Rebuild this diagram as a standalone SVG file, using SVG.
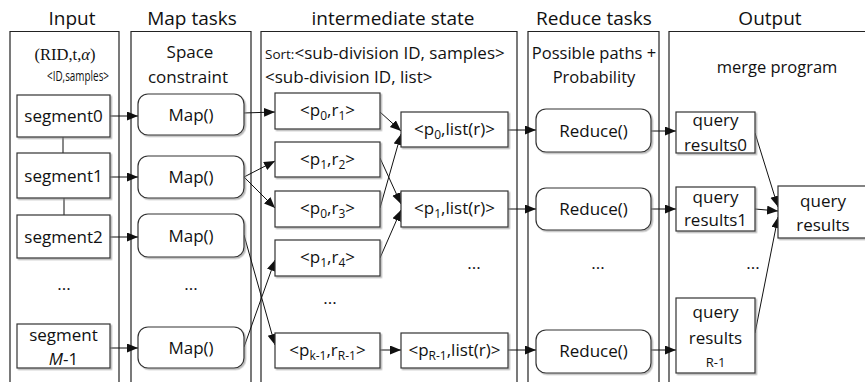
<svg xmlns="http://www.w3.org/2000/svg" width="865" height="382" viewBox="0 0 865 382">
<style>
text{font-family:"Open Sans","Liberation Sans",sans-serif;fill:#111;}
.title{font-size:19px;text-anchor:middle;}
.t{font-size:17px;text-anchor:middle;}
.h{font-size:16.5px;text-anchor:middle;}
.sub{font-size:12px;}
.col{fill:none;stroke:#222;stroke-width:1.2;}
.box{fill:#fff;stroke:#333;stroke-width:1.2;filter:url(#sh);}
.con{fill:none;stroke:#111;stroke-width:1;}
.arr{marker-end:url(#ah);}
</style>
<defs>
<filter id="sh" x="-10%" y="-10%" width="130%" height="130%"><feDropShadow dx="1.5" dy="1.5" stdDeviation="0.7" flood-color="#888" flood-opacity="0.6"/></filter>
<marker id="ah" markerUnits="userSpaceOnUse" markerWidth="12" markerHeight="10" refX="11" refY="4.5" orient="auto"><path d="M0,0 L11,4.5 L0,9 Z" fill="#111"/></marker>
</defs>

<g id="columns">
<path class="col" d="M10,392 V31.5 H119 V392"/>
<path class="col" d="M131,392 V31.5 H251 V392"/>
<path class="col" d="M261,392 V31.5 H517 V392"/>
<path class="col" d="M528,392 V31.5 H659 V392"/>
<path class="col" d="M669,392 V31.5 H870"/>
<text class="title" x="72" y="25">Input</text>
<text class="title" x="192" y="25">Map tasks</text>
<text class="title" x="393" y="25">intermediate state</text>
<text class="title" x="594" y="25">Reduce tasks</text>
<text class="title" x="770" y="25">Output</text>
<text x="65" y="60" style="font-family:'Liberation Serif',serif;font-size:16.5px;text-anchor:middle">(RID,t,<tspan font-style="italic">α</tspan>)</text>
<text x="47" y="81" style="font-size:14px" textLength="62" lengthAdjust="spacingAndGlyphs">&lt;ID,samples&gt;</text>
<text class="t" x="190" y="58">Space</text>
<text class="t" x="188" y="83">constraint</text>
<text x="265" y="59" style="font-size:17px"><tspan style="font-size:13.5px">Sort:</tspan>&lt;sub-division ID, samples&gt;</text>
<text x="265" y="83" style="font-size:17px">&lt;sub-division ID, list&gt;</text>
<text class="h" x="594" y="59">Possible paths +</text>
<text class="h" x="594" y="83">Probability</text>
<text class="h" x="777" y="73">merge program</text>
</g>

<g id="connectors">
<line class="con" x1="63" y1="137" x2="63" y2="153"/>
<line class="con" x1="64" y1="198" x2="64" y2="215"/>
<line class="con arr" x1="110" y1="116" x2="138" y2="116"/>
<line class="con arr" x1="110" y1="177" x2="138" y2="177"/>
<line class="con arr" x1="110" y1="237" x2="138" y2="237"/>
<line class="con arr" x1="110" y1="348" x2="138" y2="348"/>
<line class="con arr" x1="243" y1="113" x2="275" y2="112"/>
<line class="con arr" x1="244" y1="177" x2="275" y2="161"/>
<line class="con arr" x1="244" y1="177" x2="275" y2="208"/>
<line class="con arr" x1="244" y1="235" x2="275" y2="345"/>
<line class="con arr" x1="244" y1="347" x2="275" y2="260"/>
<line class="con arr" x1="380" y1="112" x2="401" y2="131"/>
<line class="con arr" x1="380" y1="158" x2="401" y2="204"/>
<line class="con arr" x1="380" y1="208" x2="401" y2="134"/>
<line class="con arr" x1="380" y1="258" x2="401" y2="210"/>
<line class="con arr" x1="380" y1="350" x2="401" y2="350"/>
<line class="con arr" x1="508" y1="130" x2="536" y2="130"/>
<line class="con arr" x1="508" y1="209" x2="536" y2="209"/>
<line class="con arr" x1="508" y1="350" x2="536" y2="350"/>
<line class="con arr" x1="651" y1="131" x2="676" y2="131"/>
<line class="con arr" x1="651" y1="209" x2="676" y2="209"/>
<line class="con arr" x1="651" y1="350" x2="676" y2="350"/>
<line class="con arr" x1="755" y1="133" x2="778" y2="207"/>
<line class="con arr" x1="755" y1="209" x2="778" y2="211"/>
<line class="con arr" x1="755" y1="333" x2="778" y2="217"/>
</g>

<g id="segment0"><rect class="box" x="17" y="95" width="93" height="42"/><text class="t" x="63.5" y="122">segment0</text></g>
<g id="segment1"><rect class="box" x="17" y="153" width="93" height="45"/><text class="t" x="63.5" y="182">segment1</text></g>
<g id="segment2"><rect class="box" x="17" y="215" width="93" height="43"/><text class="t" x="63.5" y="243">segment2</text></g>
<g id="input-dots"><text class="t" x="64" y="290">...</text></g>
<g id="segmentM-1"><rect class="box" x="17" y="324" width="93" height="44"/><text class="t" x="63.5" y="341">segment</text><text class="t" x="63.5" y="365"><tspan font-style="italic">M</tspan>-1</text></g>

<g id="map0"><rect class="box" x="138" y="94" width="106" height="41" rx="10"/><text class="t" x="191" y="121">Map()</text></g>
<g id="map1"><rect class="box" x="138" y="156" width="106" height="42" rx="10"/><text class="t" x="191" y="183">Map()</text></g>
<g id="map2"><rect class="box" x="138" y="214" width="106" height="43" rx="10"/><text class="t" x="191" y="242">Map()</text></g>
<g id="map-dots"><text class="t" x="191" y="290">...</text></g>
<g id="mapM-1"><rect class="box" x="138" y="327" width="106" height="41" rx="10"/><text class="t" x="191" y="354">Map()</text></g>

<g id="p0r1"><rect class="box" x="275" y="93" width="105" height="36"/><text class="t" x="327.5" y="116">&lt;p<tspan class="sub" dy="4">0</tspan><tspan dy="-4">,r</tspan><tspan class="sub" dy="4">1</tspan><tspan dy="-4">&gt;</tspan></text></g>
<g id="p1r2"><rect class="box" x="275" y="142" width="105" height="35"/><text class="t" x="327.5" y="165">&lt;p<tspan class="sub" dy="4">1</tspan><tspan dy="-4">,r</tspan><tspan class="sub" dy="4">2</tspan><tspan dy="-4">&gt;</tspan></text></g>
<g id="p0r3"><rect class="box" x="275" y="191" width="105" height="36"/><text class="t" x="327.5" y="214">&lt;p<tspan class="sub" dy="4">0</tspan><tspan dy="-4">,r</tspan><tspan class="sub" dy="4">3</tspan><tspan dy="-4">&gt;</tspan></text></g>
<g id="p1r4"><rect class="box" x="275" y="240" width="105" height="36"/><text class="t" x="327.5" y="263">&lt;p<tspan class="sub" dy="4">1</tspan><tspan dy="-4">,r</tspan><tspan class="sub" dy="4">4</tspan><tspan dy="-4">&gt;</tspan></text></g>
<g id="inter-dots-left"><text class="t" x="330" y="304">...</text></g>
<g id="pk-1rR-1"><rect class="box" x="275" y="333" width="105" height="35"/><text class="t" x="327.5" y="356">&lt;p<tspan class="sub" dy="4">k-1</tspan><tspan dy="-4">,r</tspan><tspan class="sub" dy="4">R-1</tspan><tspan dy="-4">&gt;</tspan></text></g>

<g id="p0list"><rect class="box" x="401" y="112" width="107" height="35"/><text class="t" x="454.5" y="135">&lt;p<tspan class="sub" dy="4">0</tspan><tspan dy="-4">,list(r)&gt;</tspan></text></g>
<g id="p1list"><rect class="box" x="401" y="191" width="107" height="36"/><text class="t" x="454.5" y="214">&lt;p<tspan class="sub" dy="4">1</tspan><tspan dy="-4">,list(r)&gt;</tspan></text></g>
<g id="inter-dots-right"><text class="t" x="474" y="269">...</text></g>
<g id="pR-1list"><rect class="box" x="401" y="333" width="107" height="35"/><text class="t" x="454.5" y="356">&lt;p<tspan class="sub" dy="4">R-1</tspan><tspan dy="-4">,list(r)&gt;</tspan></text></g>

<g id="reduce0"><rect class="box" x="536" y="109" width="115" height="43" rx="10"/><text class="t" x="593.5" y="137">Reduce()</text></g>
<g id="reduce1"><rect class="box" x="536" y="188" width="115" height="42" rx="10"/><text class="t" x="593.5" y="215">Reduce()</text></g>
<g id="reduce-dots"><text class="t" x="598" y="269">...</text></g>
<g id="reduceR-1"><rect class="box" x="536" y="330" width="115" height="43" rx="10"/><text class="t" x="593.5" y="357">Reduce()</text></g>

<g id="results0"><rect class="box" x="676" y="112" width="79" height="41"/><text class="t" x="715.5" y="126">query</text><text class="t" x="715.5" y="151">results0</text></g>
<g id="results1"><rect class="box" x="676" y="187" width="79" height="44"/><text class="t" x="715.5" y="203">query</text><text class="t" x="715.5" y="226">results1</text></g>
<g id="output-dots"><text class="t" x="753" y="269">...</text></g>
<g id="resultsR-1"><rect class="box" x="676" y="298" width="79" height="75"/><text class="t" x="715.5" y="318">query</text><text class="t" x="715.5" y="344">results</text><text x="715.5" y="367" style="font-size:13px;text-anchor:middle">R-1</text></g>
<g id="query-results"><rect class="box" x="778" y="186" width="92" height="52"/><text class="t" x="823" y="207">query</text><text class="t" x="823" y="231">results</text></g>
</svg>
